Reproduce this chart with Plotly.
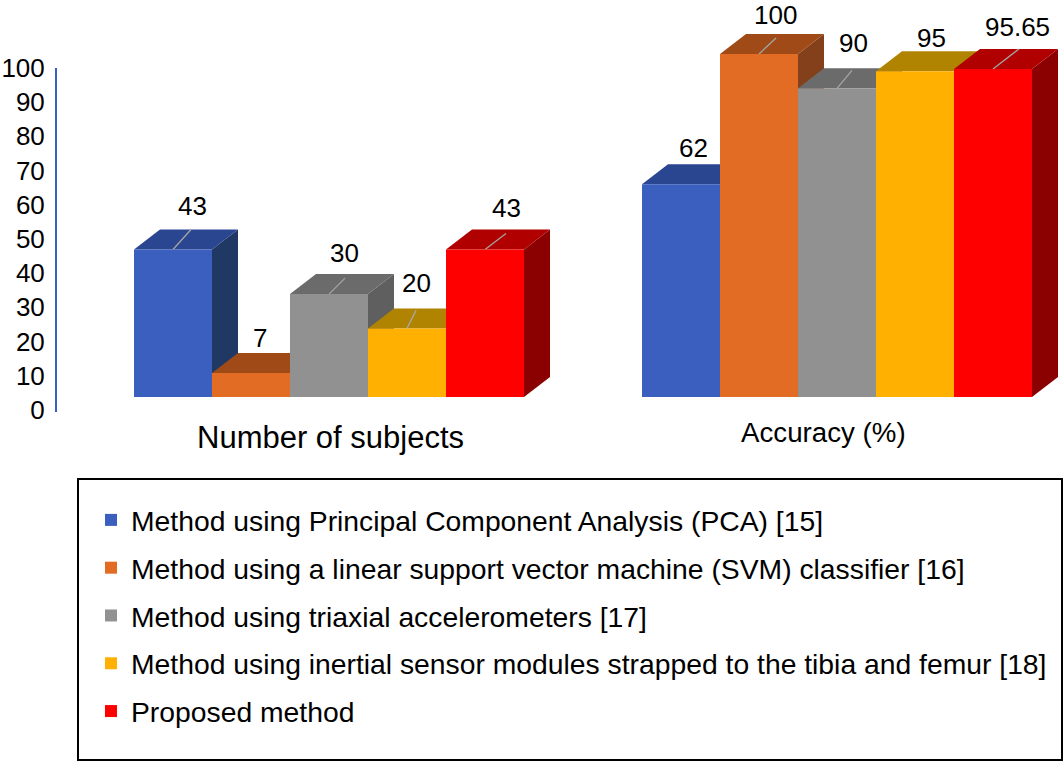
# Comparison of gait methods: pseudo-3D grouped bars, one front bar per method
# plus top/side faces computed from the same values.

import plotly.graph_objects as go

# ────────────────────────── data ────────────────────────────────
CATEGORIES = ["Number of subjects", "Accuracy (%)"]
METHODS = [
    "Method using Principal Component Analysis (PCA) [15]",
    "Method using a linear support vector machine (SVM) classifier [16]",
    "Method using triaxial accelerometers [17]",
    "Method using inertial sensor modules strapped to the tibia and femur [18]",
    "Proposed method",
]
PCA_VALUES = [43, 62]
SVM_VALUES = [7, 100]
TRIAXIAL_VALUES = [30, 90]
INERTIAL_VALUES = [20, 95]
PROPOSED_VALUES = [43, 95.65]
TICK_VALUES = [0, 10, 20, 30, 40, 50, 60, 70, 80, 90, 100]

SERIES = [PCA_VALUES, SVM_VALUES, TRIAXIAL_VALUES, INERTIAL_VALUES, PROPOSED_VALUES]

# ────────────────────────── styling ─────────────────────────────
FRONT = ["#3A5FBE", "#E36C24", "#919191", "#FFB000", "#FF0000"]
TOP = ["#2A4690", "#A04A18", "#6B6B6B", "#B08400", "#B00000"]
SIDE = ["#203864", "#84401A", "#5F5F5F", "#8F6C00", "#8B0000"]

W, H = 1063, 762
FONT = "Liberation Sans"

# pixel scales of the bar area
PX_PER_CAT = 508
PX_PER_UNIT = 3.43
CAT0_PX = 329
BASE_PX = 397
BAR_W = 78 / PX_PER_CAT
DEPTH_X = 26 / PX_PER_CAT
DEPTH_Y = 20 / PX_PER_UNIT

X_RANGE = [(0 - CAT0_PX) / PX_PER_CAT, (W - CAT0_PX) / PX_PER_CAT]
Y_RANGE = [(BASE_PX - H) / PX_PER_UNIT, BASE_PX / PX_PER_UNIT]

# (category, series) → label offset from the bar's front-top centre, in px
LABEL_SHIFT = {
    (0, 0): (19, 44), (0, 1): (9, 35), (0, 2): (15, 41), (0, 3): (9, 45), (0, 4): (21, 42),
    (1, 0): (12, 36), (1, 1): (16, 39), (1, 2): (16, 45), (1, 3): (16, 33), (1, 4): (24, 42),
}
# (category, series) → leader line run and rise, in px
LEADERS = {
    (0, 0): (18, 20), (0, 2): (16, 16), (0, 3): (9, 18), (0, 4): (21, 16),
    (1, 1): (17, 16), (1, 2): (15, 18), (1, 4): (26, 20),
}


def _bar_x(cat, s):
    return cat + (s - 2) * BAR_W


fig = go.Figure()

# ── back layer: faces painted left to right so each covers its neighbour ──
for cat in range(len(CATEGORIES)):
    for s, values in enumerate(SERIES):
        v = values[cat]
        cx = _bar_x(cat, s)
        left, right = cx - BAR_W / 2, cx + BAR_W / 2
        fig.add_trace(go.Scatter(
            x=[right, right, right + DEPTH_X, right + DEPTH_X, right],
            y=[0, v, v + DEPTH_Y, DEPTH_Y, 0],
            mode="lines", fill="toself", fillcolor=SIDE[s], line=dict(width=0),
            showlegend=False, hoverinfo="skip",
        ))
        fig.add_trace(go.Scatter(
            x=[left, right, right + DEPTH_X, left + DEPTH_X, left],
            y=[v, v, v + DEPTH_Y, v + DEPTH_Y, v],
            mode="lines", fill="toself", fillcolor=TOP[s], line=dict(width=0),
            showlegend=False, hoverinfo="skip",
        ))
        if (cat, s) in LEADERS:
            run, rise = LEADERS[(cat, s)]
            fig.add_trace(go.Scatter(
                x=[cx, cx + run / PX_PER_CAT],
                y=[v, v + rise / PX_PER_UNIT],
                mode="lines", line=dict(color="#A6A6A6", width=1.3),
                showlegend=False, hoverinfo="skip",
            ))

# invisible trace so the printed scale axis exists
fig.add_trace(go.Scatter(
    x=[0, 0], y=[TICK_VALUES[0], TICK_VALUES[-1]], yaxis="y3",
    mode="markers", opacity=0, showlegend=False, hoverinfo="skip",
))

# ── front layer: the bars themselves, on overlaying axes ──
for s, values in enumerate(SERIES):
    fig.add_trace(go.Bar(
        x=CATEGORIES, y=values, name=METHODS[s], xaxis="x2", yaxis="y2",
        marker=dict(color=FRONT[s], line=dict(width=0)),
        legendgroup=f"m{s}",
    ))

annotations = []
for (cat, s), (dx, dy) in LABEL_SHIFT.items():
    v = SERIES[s][cat]
    annotations.append(dict(
        x=_bar_x(cat, s), y=v, xref="x", yref="y", xshift=dx, yshift=dy,
        text=str(v), showarrow=False, font=dict(size=26, color="black"),
    ))

# category captions sit off the group centres in the original
annotations.append(dict(
    x=0, y=1 - 437 / H, xref="x", yref="paper", xshift=1, text=CATEGORIES[0],
    showarrow=False, font=dict(size=31, color="black"),
))
annotations.append(dict(
    x=1, y=1 - 432 / H, xref="x", yref="paper", xshift=-14, text=CATEGORIES[1],
    showarrow=False, font=dict(size=27.7, color="black"),
))

fig.update_layout(
    width=W, height=H,
    margin=dict(l=0, r=0, t=0, b=0, autoexpand=False),
    paper_bgcolor="white", plot_bgcolor="rgba(0,0,0,0)",
    font=dict(family=FONT, color="black"),
    barmode="group", bargap=1 - 5 * BAR_W, bargroupgap=0,
    showlegend=True,
    legend=dict(
        x=91 / W, y=1 - 495 / H, xanchor="left", yanchor="top",
        font=dict(size=28.3, color="black"), tracegroupgap=8,
        bgcolor="rgba(0,0,0,0)", traceorder="grouped",
    ),
    xaxis=dict(visible=False, range=X_RANGE, domain=[0, 1], fixedrange=True),
    yaxis=dict(visible=False, range=Y_RANGE, domain=[0, 1], fixedrange=True),
    xaxis2=dict(visible=False, type="category", categoryorder="array", categoryarray=CATEGORIES,
                range=X_RANGE, overlaying="x", anchor="y2"),
    yaxis2=dict(visible=False, range=Y_RANGE, overlaying="y", anchor="x2"),
    yaxis3=dict(
        anchor="free", position=56 / W, side="left",
        domain=[1 - 412 / H, 1 - 68 / H], range=[-0.6, 100],
        tickvals=TICK_VALUES, showgrid=False, zeroline=False,
        showline=True, linecolor="#3A5FBE", linewidth=2,
        ticks="outside", ticklen=5, tickcolor="rgba(0,0,0,0)",
        tickfont=dict(size=26, color="black"),
    ),
    shapes=[dict(
        type="rect", xref="paper", yref="paper",
        x0=78 / W, x1=1062 / W, y0=1 - 760 / H, y1=1 - 479 / H,
        line=dict(color="black", width=2), fillcolor="rgba(0,0,0,0)",
    )],
    annotations=annotations,
)

# page margin off, so the figure fills the 1063x762 window exactly
fig.write_html(
    "out.html",
    config={"displayModeBar": False},
    post_script="document.body.style.margin='0';document.body.style.overflow='hidden';",
)
